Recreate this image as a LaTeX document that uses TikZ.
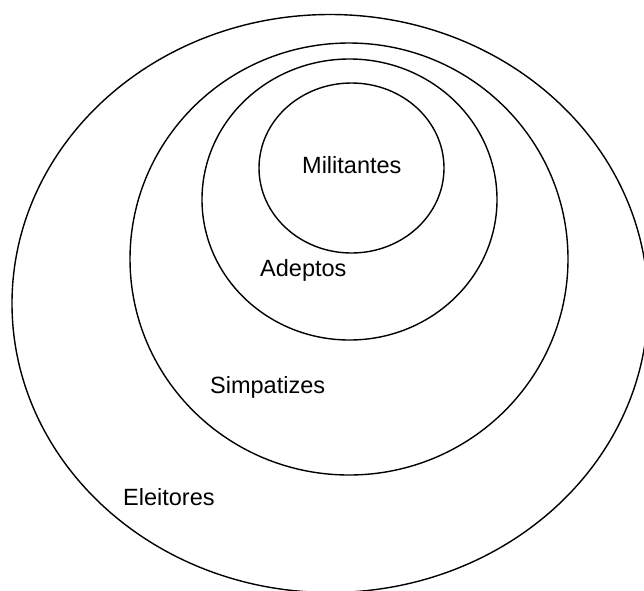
\documentclass[tikz,border=0pt]{standalone}
\usepackage{fontspec}
\setmainfont{Liberation Sans}
\usetikzlibrary{shapes.geometric}
\begin{document}
\begin{tikzpicture}[x=1pt,y=-1pt,
  ring/.style={ellipse, draw=black, line width=1.4pt, inner sep=0pt},
  lbl/.style={anchor=base west, inner sep=0pt, font=\fontsize{23.5}{28}\selectfont}]
\useasboundingbox (0,0) rectangle (644,590);
\clip (0,0) rectangle (644,590);
\fill[white] (0,0) rectangle (644,590);
\node[ring, minimum width=636pt, minimum height=578pt] (eleitores) at (330,303.5) {};
\node[ring, minimum width=438pt, minimum height=432pt] (simpatizes) at (349,259) {};
\node[ring, minimum width=295pt, minimum height=281pt] (adeptos) at (349.5,199.5) {};
\node[ring, minimum width=185pt, minimum height=170pt] (militantes) at (351.5,168) {};
\node[lbl] (tmil) at (302,173.3) {Militantes};
\node[lbl] (tade) at (260,276.7) {Adeptos};
\node[lbl] (tsim) at (210,393) {Simpatizes};
\node[lbl] (tele) at (123,505) {Eleitores};
\end{tikzpicture}
\end{document}
